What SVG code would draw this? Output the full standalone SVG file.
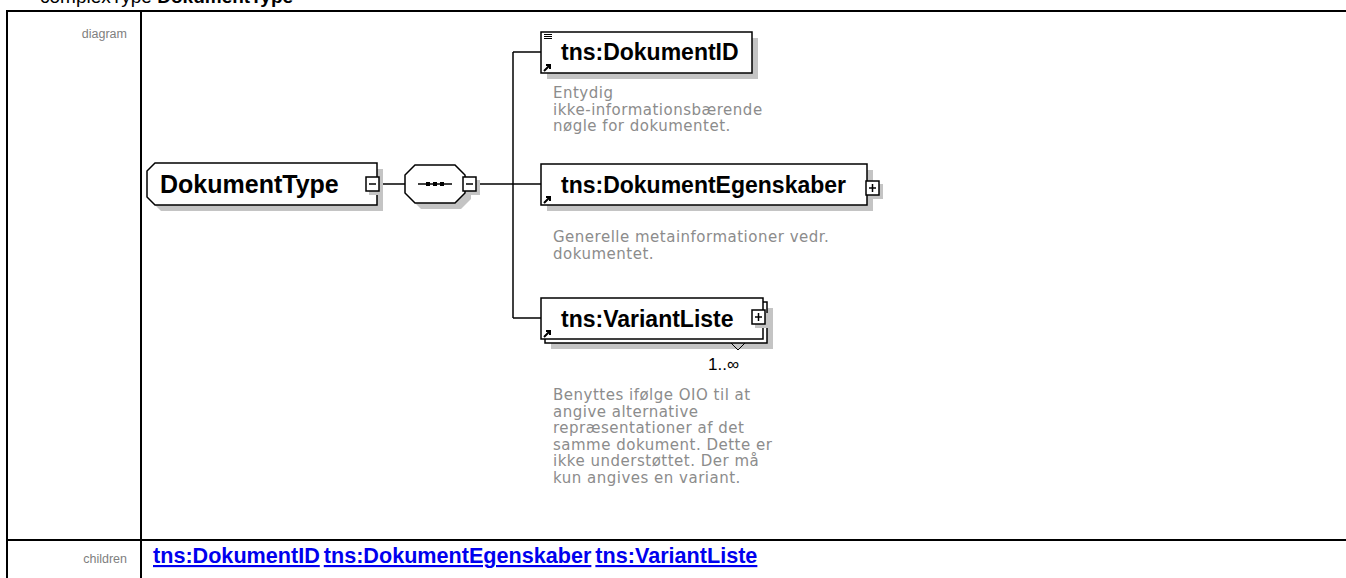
<svg xmlns="http://www.w3.org/2000/svg" width="1346" height="578" viewBox="0 0 1346 578">
<style>
.lbl{font-family:"Liberation Sans",Arial,sans-serif;font-size:12.5px;fill:#808080}
.ttl{font-family:"Liberation Sans",Arial,sans-serif;font-size:19px;fill:#000}
.node{font-family:"Liberation Sans",Arial,sans-serif;font-size:23px;font-weight:bold;fill:#000}
.big{font-size:25px}
.desc{font-family:"DejaVu Sans",sans-serif;font-size:15px;letter-spacing:0.5px;fill:#8c8c8c}
.link{font-family:"Liberation Sans",Arial,sans-serif;font-size:21.6px;font-weight:bold;fill:#0000ee;text-decoration:underline}
.box{fill:#fff;stroke:#000;stroke-width:1.5}
.shd{fill:#c4c4c4}
.tog{fill:#fff;stroke:#000;stroke-width:1.5}
.ln{stroke:#000;stroke-width:1.5;fill:none}
</style>
<text class="ttl" x="40" y="3">complexType <tspan font-weight="bold">DokumentType</tspan></text>
<g id="table" fill="none" stroke="#000" stroke-width="2">
<line x1="6" y1="11" x2="1346" y2="11"/>
<line x1="7" y1="10" x2="7" y2="578"/>
<line x1="141" y1="10" x2="141" y2="578"/>
<line x1="6" y1="540" x2="1346" y2="540"/>
</g>
<text class="lbl" x="127" y="38" text-anchor="end">diagram</text>
<text class="lbl" x="127" y="563" text-anchor="end">children</text>
<text x="153" y="563"><tspan class="link">tns:DokumentID</tspan> <tspan class="link">tns:DokumentEgenskaber</tspan> <tspan class="link">tns:VariantListe</tspan></text>

<g id="connectors">
<line class="ln" x1="380" y1="184" x2="405" y2="184"/>
<line class="ln" x1="477" y1="184" x2="513" y2="184"/>
<line class="ln" x1="513" y1="52" x2="513" y2="318"/>
<line class="ln" x1="513" y1="52" x2="541" y2="52"/>
<line class="ln" x1="513" y1="184" x2="541" y2="184"/>
<line class="ln" x1="513" y1="318" x2="541" y2="318"/>
</g>

<g id="DokumentType">
<polygon class="shd" points="161,169 383,169 383,211 161,211 153,203 153,177"/>
<polygon class="box" points="155,163 377,163 377,205 155,205 147,197 147,171"/>
<text class="node big" x="160" y="193">DokumentType</text>
<rect class="shd" x="369" y="180" width="14" height="15"/>
<rect class="tog" x="366" y="177" width="13" height="14"/>
<line class="ln" x1="369" y1="184" x2="376" y2="184"/>
</g>

<g id="sequence">
<polygon class="shd" points="421,171 461,171 471,181 471,199 461,209 421,209 411,199 411,181"/>
<polygon class="box" points="415,165 455,165 465,175 465,193 455,203 415,203 405,193 405,175"/>
<line class="ln" x1="418" y1="184" x2="452" y2="184"/>
<rect x="426" y="182" width="4" height="4" fill="#000"/>
<rect x="433" y="182" width="4" height="4" fill="#000"/>
<rect x="440" y="182" width="4" height="4" fill="#000"/>
<rect class="shd" x="466" y="180" width="14" height="15"/>
<rect class="tog" x="463" y="177" width="13" height="14"/>
<line class="ln" x1="466" y1="184" x2="473" y2="184"/>
</g>

<g id="DokumentID">
<rect class="shd" x="547" y="38" width="211" height="41"/>
<rect class="box" x="541" y="32" width="211" height="41"/>
<line x1="544" y1="34.5" x2="552" y2="34.5" stroke="#000" stroke-width="1"/>
<line x1="544" y1="36.5" x2="552" y2="36.5" stroke="#000" stroke-width="1"/>
<line x1="544" y1="38.5" x2="552" y2="38.5" stroke="#000" stroke-width="1"/>
<path d="M544 71 L550 65 M546 65 H550 V69" stroke="#000" stroke-width="2" fill="none"/>
<text class="node" x="561" y="60">tns:DokumentID</text>
<text class="desc"><tspan x="553" y="98">Entydig</tspan><tspan x="553" y="114.5">ikke-informationsbærende</tspan><tspan x="553" y="131">nøgle for dokumentet.</tspan></text>
</g>

<g id="DokumentEgenskaber">
<rect class="shd" x="547" y="170" width="326" height="41"/>
<rect class="box" x="541" y="164" width="326" height="41"/>
<path d="M544 203 L550 197 M546 197 H550 V201" stroke="#000" stroke-width="2" fill="none"/>
<text class="node" x="561" y="193">tns:DokumentEgenskaber</text>
<rect class="shd" x="869" y="184" width="14" height="15"/>
<rect class="tog" x="866" y="181" width="13" height="14"/>
<line class="ln" x1="869" y1="188" x2="876" y2="188"/>
<line class="ln" x1="872.5" y1="184" x2="872.5" y2="192"/>
<text class="desc"><tspan x="553" y="242">Generelle metainformationer vedr.</tspan><tspan x="553" y="258.5">dokumentet.</tspan></text>
</g>

<g id="VariantListe">
<rect class="shd" x="551" y="308" width="222" height="41"/>
<rect class="box" x="545" y="302" width="222" height="41"/>
<rect class="box" x="541" y="298" width="222" height="41"/>
<path d="M544 337 L550 331 M546 331 H550 V335" stroke="#000" stroke-width="2" fill="none"/>
<text class="node" x="561" y="327">tns:VariantListe</text>
<rect class="shd" x="755" y="313" width="14" height="15"/>
<rect class="tog" x="752" y="310" width="13" height="14"/>
<line class="ln" x1="755" y1="317" x2="762" y2="317"/>
<line class="ln" x1="758.5" y1="313" x2="758.5" y2="321"/>
<path d="M731 343 L738 350 L745 343" stroke="#000" stroke-width="1" fill="none"/>
<text x="708" y="370" font-family="'Liberation Sans',Arial,sans-serif" font-size="17" fill="#000">1..∞</text>
<text class="desc"><tspan x="553" y="400">Benyttes ifølge OIO til at</tspan><tspan x="553" y="416.5">angive alternative</tspan><tspan x="553" y="433">repræsentationer af det</tspan><tspan x="553" y="449.5">samme dokument. Dette er</tspan><tspan x="553" y="466">ikke understøttet. Der må</tspan><tspan x="553" y="482.5">kun angives en variant.</tspan></text>
</g>
</svg>
